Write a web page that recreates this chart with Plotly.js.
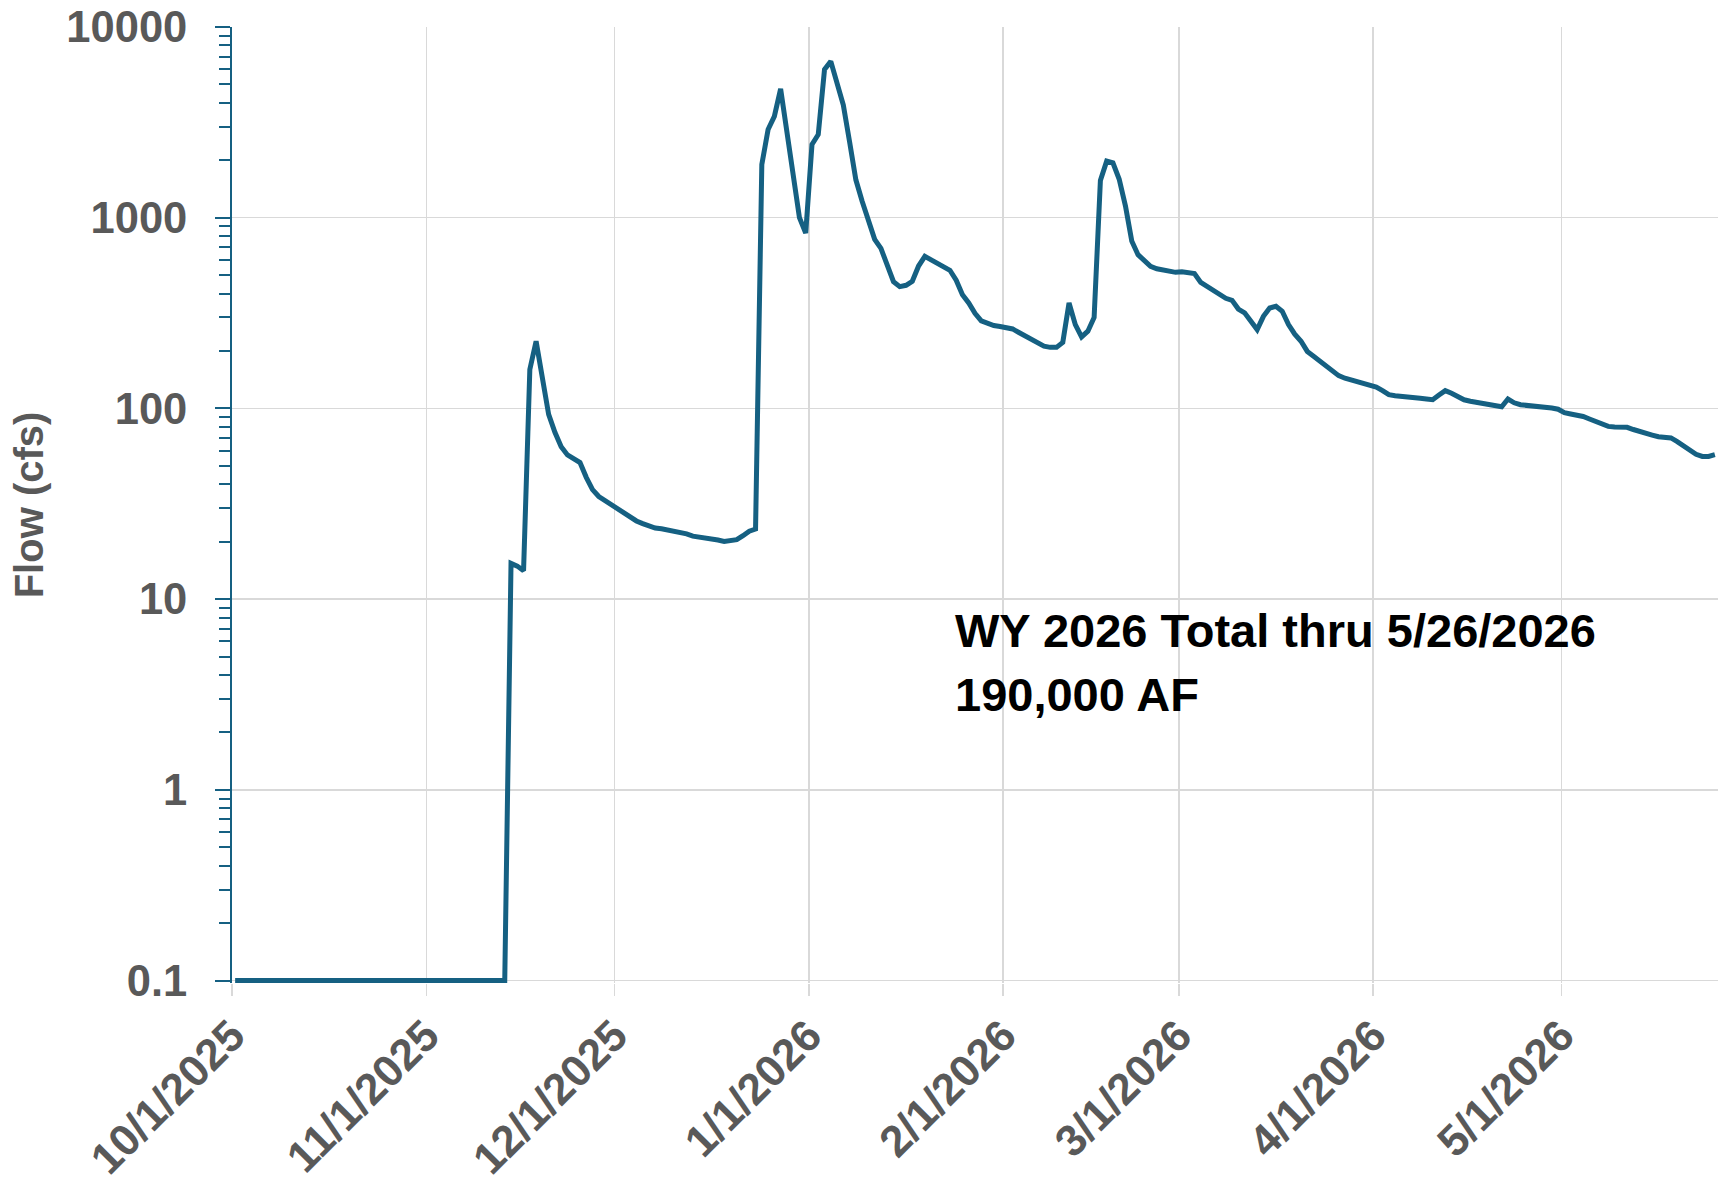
<!DOCTYPE html>
<html>
<head>
<meta charset="utf-8">
<script src="https://cdn.plot.ly/plotly-3.0.1.min.js"></script>
<style>
  html, body { margin: 0; padding: 0; background: #ffffff; }
  #chart { width: 1722px; height: 1189px; }
</style>
</head>
<body>
<div id="chart"></div>
<script>
// Daily flow (cfs), one value per day starting 10/1/2025
const startDate = '2025-10-01';
const flowCfs = [
  0.1, 0.1, 0.1, 0.1, 0.1, 0.1, 0.1, 0.1, 0.1, 0.1,
  0.1, 0.1, 0.1, 0.1, 0.1, 0.1, 0.1, 0.1, 0.1, 0.1,
  0.1, 0.1, 0.1, 0.1, 0.1, 0.1, 0.1, 0.1, 0.1, 0.1,
  0.1, 0.1, 0.1, 0.1, 0.1, 0.1, 0.1, 0.1, 0.1, 0.1,
  0.1, 0.1, 0.1, 0.1, 15.4, 14.9, 14.1, 160, 225, 150,
  93, 75, 63, 57, 54.5, 52, 43.5, 37.5, 34.5, 32.8,
  31.2, 29.8, 28.4, 27, 25.7, 24.9, 24.3, 23.6, 23.4, 23.1,
  22.6, 22.4, 22.0, 21.4, 21.2, 21.1, 20.7, 20.4, 20.05, 20.2,
  20.5, 21.5, 22.7, 23.3, 1900, 2900, 3400, 4740, 2800, 1700,
  1000, 830, 2420, 2730, 5990, 6600, 5200, 3900, 2500, 1580,
  1220, 960, 770, 690, 567, 462, 435, 442, 464, 558,
  627, 600, 577, 555, 530, 470, 395, 357, 315, 288,
  278, 272, 269, 266, 261, 250, 240, 234, 224, 212,
  209, 209, 222, 357, 275, 237, 254, 300, 1570, 1980,
  1940, 1590, 1150, 755, 640, 595, 556, 540, 534, 530,
  517, 520, 512, 509, 458, 436, 412, 390, 378, 369,
  332, 317, 288, 259, 304, 336, 343, 323, 275, 245,
  225, 199, 188, 177, 168, 158, 148.5, 144, 141, 137,
  134, 131, 129.5, 124, 118, 116.5, 116, 115.5, 114.5, 113,
  112, 111, 117.5, 124, 120, 115, 111, 109, 107.5, 106,
  103.5, 102.4, 102, 112, 107, 104.5, 104, 103.5, 102.5, 101.5,
  100.5, 99, 95, 93.5, 92.5, 90.7, 88, 85, 82.5, 80.5,
  79.8, 79.7, 79.6, 77.5, 75.5, 73.4, 72.5, 71, 70.5, 70,
  67, 64, 60.5, 57.5, 56, 56, 57.2
];

const xTickVals = ['2025-10-01', '2025-11-01', '2025-12-01', '2026-01-01',
                   '2026-02-01', '2026-03-01', '2026-04-01', '2026-05-01'];
const xTickText = ['10/1/2025', '11/1/2025', '12/1/2025', '1/1/2026',
                   '2/1/2026', '3/1/2026', '4/1/2026', '5/1/2026'];
const yTickVals = [0.1, 1, 10, 100, 1000, 10000];
const yTickText = ['0.1', '1', '10', '100', '1000', '10000'];
const yMinorVals = [];
[0.1, 1, 10, 100, 1000].forEach(d => { for (let k = 2; k <= 9; k++) yMinorVals.push(+(d * k).toPrecision(3)); });
const xRange = ['2025-10-01', '2026-05-26'];
const annotationLine1 = 'WY 2026 Total thru 5/26/2026';
const annotationLine2 = '190,000 AF';

// dates for each daily value
const dates = flowCfs.map((v, i) => {
  const d = new Date(startDate + 'T00:00:00Z');
  d.setUTCDate(d.getUTCDate() + i);
  return d.toISOString().slice(0, 10);
});

const fontFam = '"Liberation Sans", Arial, sans-serif';
const axisBlue = '#156082';
const gridGray = '#d9d9d9';
const labelGray = '#595959';

const trace = {
  type: 'scatter',
  mode: 'lines',
  x: dates,
  y: flowCfs,
  xperiod: 86400000,
  xperiodalignment: 'middle',
  line: { color: '#156082', width: 5 },
  hoverinfo: 'x+y'
};

const annFont = { family: fontFam, size: 47, color: '#000000', weight: 'bold' };

const layout = {
  width: 1722,
  height: 1189,
  margin: { l: 232, r: 4, t: 27, b: 206 },
  paper_bgcolor: '#ffffff',
  plot_bgcolor: '#ffffff',
  showlegend: false,
  font: { family: fontFam, color: labelGray },
  xaxis: {
    type: 'date',
    range: xRange,
    tickmode: 'array',
    tickvals: xTickVals,
    ticktext: xTickText,
    tickangle: -45,
    tickfont: { family: fontFam, size: 44, color: labelGray, weight: 'bold' },
    showgrid: true,
    gridcolor: gridGray,
    gridwidth: 1.5,
    ticks: 'outside',
    ticklen: 12,
    tickwidth: 1.5,
    tickcolor: gridGray,
    ticklabelstandoff: -4,
    showline: false,
    zeroline: false,
    automargin: false
  },
  yaxis: {
    type: 'log',
    range: [-1.013, 4],
    tickmode: 'array',
    tickvals: yTickVals,
    ticktext: yTickText,
    tickfont: { family: fontFam, size: 43.5, color: labelGray, weight: 'bold' },
    showgrid: true,
    gridcolor: gridGray,
    gridwidth: 1.5,
    ticks: 'outside',
    ticklen: 15,
    tickwidth: 2,
    tickcolor: axisBlue,
    ticklabelstandoff: 19,
    minor: {
      tickmode: 'array',
      tickvals: yMinorVals,
      ticks: 'outside',
      ticklen: 11,
      tickwidth: 2,
      tickcolor: axisBlue,
      showgrid: false
    },
    showline: true,
    linecolor: axisBlue,
    linewidth: 2,
    zeroline: false,
    automargin: false,
    title: {
      text: 'Flow (cfs)',
      font: { family: fontFam, size: 40, color: labelGray, weight: 'bold' },
      standoff: 10
    }
  },
  annotations: [{
    xref: 'paper', yref: 'paper',
    x: 0.485, y: 0.3692,
    xanchor: 'left', yanchor: 'middle',
    align: 'left',
    showarrow: false,
    text: annotationLine1,
    font: annFont
  }, {
    xref: 'paper', yref: 'paper',
    x: 0.485, y: 0.3013,
    xanchor: 'left', yanchor: 'middle',
    align: 'left',
    showarrow: false,
    text: annotationLine2,
    font: annFont
  }]
};

Plotly.newPlot('chart', [trace], layout, { displayModeBar: false, staticPlot: true });
</script>
</body>
</html>
